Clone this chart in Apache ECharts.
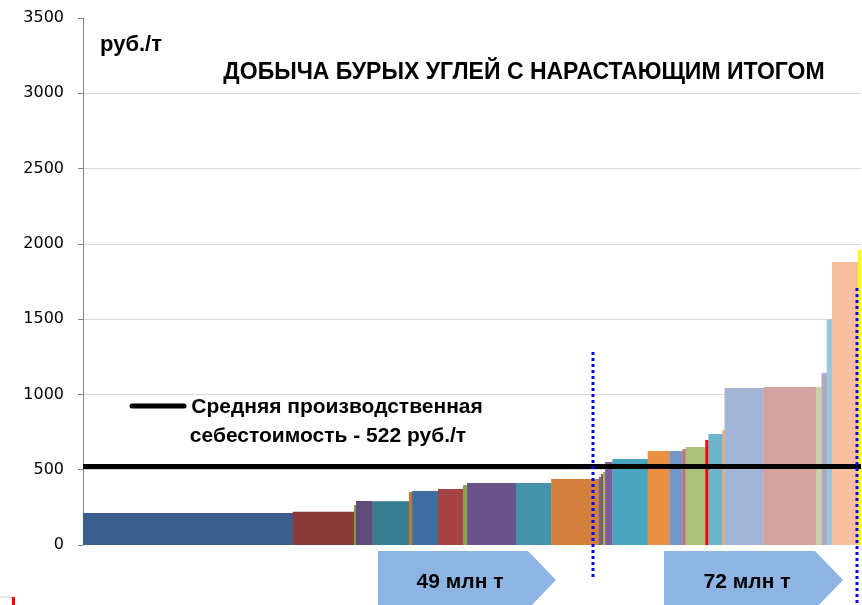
<!DOCTYPE html>
<html>
<head>
<meta charset="utf-8">
<script src="https://cdn.jsdelivr.net/npm/echarts@6/dist/echarts.min.js"></script>
<style>
  html, body { margin: 0; padding: 0; background: #fff; }
  #chart { width: 862px; height: 605px; }
</style>
</head>
<body>
<div id="chart"></div>
<script>
// объём добычи по разрезам, млн т (ширина столбца)
var volumes = [20.2, 5.9, 0.2, 1.6, 3.5, 0.3, 2.5, 2.4, 0.4, 4.7, 3.4, 4.6, 0.2, 0.2, 0.2, 0.7,
               3.4, 2.1, 1.25, 0.3, 1.9, 0.3, 1.35, 0.2, 3.75, 5.1, 0.5, 0.5, 0.5, 2.5, 0.3];
// себестоимость, руб./т (высота столбца)
var costs = [212, 221, 265, 292, 290, 352, 358, 372, 398, 412, 412, 438, 452, 471, 485, 551,
             571, 624, 624, 637, 651, 697, 737, 764, 1042, 1049, 1049, 1142, 1500, 1879, 1959];
var yTicks = [0, 500, 1000, 1500, 2000, 2500, 3000, 3500];
var avgCost = 522;
var arrowLabels = ['49 млн т', '72 млн т'];

var palette = ['#3B5E8C', '#8B3A3A', '#7A9A45', '#5F4B7A', '#357D91', '#C2772F', '#3F6DA0', '#A54442',
               '#8AA54A', '#6B5489', '#4393AB', '#D17F3A', '#4A75B0', '#B04A48', '#9BB85C', '#7B5E9A',
               '#4AA4BE', '#EB8F43', '#7596C6', '#C0736E', '#A9C17A', '#FF0000', '#6DB5CA', '#F6A46A',
               '#A3B5D5', '#D6A1A1', '#C5D4A4', '#B3A6C6', '#9EC6D7', '#F7BFA0', '#FFFF00'];

// собираем накопленный итог
var bars = [];
var acc = 0;
volumes.forEach(function (v, i) {
    bars.push([acc, acc + v, costs[i], i]);
    acc += v;
});
var total = acc;

var chart = echarts.init(document.getElementById('chart'));

var boldFont = '"Liberation Sans", Arial, sans-serif';

var option = {
    animation: false,
    grid: { left: 83, right: 1, top: 18, bottom: 60 },
    xAxis: {
        type: 'value', min: 0, max: total, show: false
    },
    yAxis: {
        type: 'value', min: yTicks[0], max: yTicks[yTicks.length - 1], interval: 500,
        axisLine: { show: true, lineStyle: { color: '#868686', width: 1 } },
        axisTick: { show: true, length: 5, lineStyle: { color: '#868686' } },
        axisLabel: {
            color: '#000', fontSize: 16, fontFamily: '"DejaVu Sans", sans-serif', margin: 19,
            formatter: function (v) { return String(v); }
        },
        splitLine: { show: true, showMinLine: false, showMaxLine: false, lineStyle: { color: '#D9D9D9', width: 1 } }
    },
    series: [{
        type: 'custom',
        data: bars,
        encode: { x: [0, 1], y: 2 },
        renderItem: function (params, api) {
            var p0 = api.coord([api.value(0), api.value(2)]);
            var p1 = api.coord([api.value(1), 0]);
            return {
                type: 'rect',
                shape: { x: p0[0], y: p0[1], width: p1[0] - p0[0] + 0.3, height: p1[1] - p0[1] },
                style: { fill: palette[api.value(3)] }
            };
        },
        markLine: {
            silent: true,
            symbol: 'none',
            label: { show: false },
            lineStyle: { color: '#000', width: 5, type: 'solid' },
            data: [{ yAxis: avgCost }]
        },
        z: 2
    }],
    graphic: [
        { type: 'text', x: 131, y: 45, style: { text: 'руб./т', font: 'bold 22px ' + boldFont, fill: '#000', textAlign: 'center', textVerticalAlign: 'middle' } },
        { type: 'text', x: 524, y: 73, style: { text: 'ДОБЫЧА БУРЫХ УГЛЕЙ С НАРАСТАЮЩИМ ИТОГОМ', font: 'bold 23px ' + boldFont, fill: '#000', textAlign: 'center', textVerticalAlign: 'middle' } },
        { type: 'line', shape: { x1: 132, y1: 406, x2: 184, y2: 406 }, style: { stroke: '#000', lineWidth: 5, lineCap: 'round' } },
        { type: 'text', x: 337, y: 407, style: { text: 'Средняя производственная', font: 'bold 21px ' + boldFont, fill: '#000', textAlign: 'center', textVerticalAlign: 'middle' } },
        { type: 'text', x: 328, y: 436, style: { text: 'себестоимость - 522 руб./т', font: 'bold 21px ' + boldFont, fill: '#000', textAlign: 'center', textVerticalAlign: 'middle' } },
        // пунктирные границы
        { type: 'line', z: 10, shape: { x1: 593, y1: 352, x2: 593, y2: 578 }, style: { stroke: '#0000FF', lineWidth: 3, lineDash: [3, 3] } },
        { type: 'line', z: 10, shape: { x1: 857, y1: 288, x2: 857, y2: 605 }, style: { stroke: '#0000FF', lineWidth: 3, lineDash: [3, 3] } },
        // стрелки
        { type: 'polygon', shape: { points: [[378, 551], [528, 551], [556, 580], [528, 609], [378, 609]] }, style: { fill: '#8EB4E3' } },
        { type: 'polygon', shape: { points: [[664, 551], [815, 551], [843, 580], [815, 609], [664, 609]] }, style: { fill: '#8EB4E3' } },
        { type: 'text', x: 460, y: 582, style: { text: arrowLabels[0], font: 'bold 21px ' + boldFont, fill: '#000', textAlign: 'center', textVerticalAlign: 'middle' } },
        { type: 'text', x: 747, y: 582, style: { text: arrowLabels[1], font: 'bold 21px ' + boldFont, fill: '#000', textAlign: 'center', textVerticalAlign: 'middle' } },
        // обрезок в левом нижнем углу
        { type: 'line', shape: { x1: 0, y1: 597, x2: 12, y2: 597 }, style: { stroke: '#D0D0D0', lineWidth: 1 } },
        { type: 'rect', shape: { x: 12, y: 597, width: 3, height: 8 }, style: { fill: '#FF0000' } }
    ]
};

chart.setOption(option);
</script>
</body>
</html>
